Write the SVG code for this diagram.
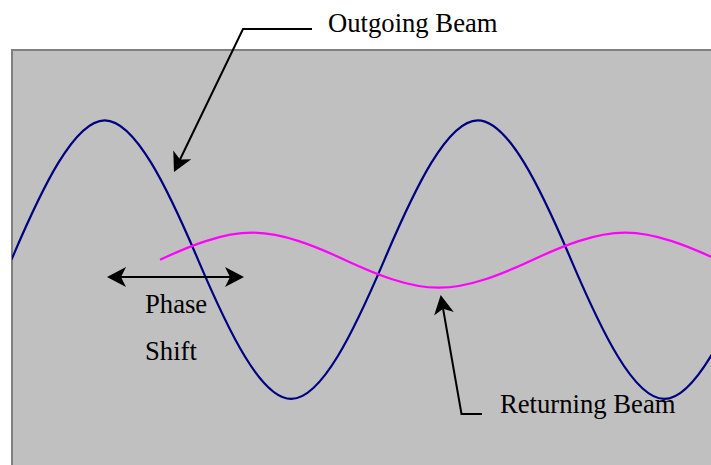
<svg xmlns="http://www.w3.org/2000/svg" width="711" height="465" viewBox="0 0 711 465">
  <style>
    .lbl { font-family: "Liberation Serif", "Times New Roman", serif; font-size: 26.67px; fill: #000; }
    .wave { fill: none; stroke-width: 2.2; stroke-linejoin: round; }
    .conn { fill: none; stroke: #000; stroke-width: 2; }
  </style>
  <defs>
    <marker id="arr" markerUnits="userSpaceOnUse" viewBox="-18 -11 22 22" markerWidth="22" markerHeight="22" refX="0" refY="0" orient="auto-start-reverse" overflow="visible">
      <path d="M3,0 L-16,-10 L-11,0 L-16,10 Z" fill="#000"/>
    </marker>
    <clipPath id="boxclip">
      <rect x="12" y="50" width="699" height="415"/>
    </clipPath>
  </defs>
  <rect width="711" height="465" fill="#fff"/>
  <g id="panel">
    <rect x="12" y="50" width="720" height="430" fill="#c0c0c0" stroke="#808080" stroke-width="2"/>
  </g>
  <g id="outgoing-wave" clip-path="url(#boxclip)">
    <path class="wave" stroke="#000080" d="M11.5,259.6 C41.91,188.24 74.34,120.3 104.75,120.3 C135.16,120.3 167.59,188.24 198,259.6 C228.41,330.96 260.84,398.9 291.25,398.9 C321.66,398.9 354.09,330.96 384.5,259.6 C414.91,188.24 447.34,120.3 477.75,120.3 C508.16,120.3 540.59,188.24 571,259.6 C601.41,330.96 633.84,398.9 664.25,398.9 C694.66,398.9 727.09,330.96 757.5,259.6"/>
  </g>
  <g id="returning-wave">
    <path class="wave" stroke="#ff00ff" d="M160,259.8 C189.41,246.11 221.84,232.7 252.25,232.7 C282.66,232.7 315.09,246.11 345.5,260.2 C375.91,274.29 408.34,287.7 438.75,287.7 C469.16,287.7 501.59,274.29 532,260.2 C562.41,246.11 594.84,232.7 625.25,232.7 C655.66,232.7 688.09,246.11 718.5,260.2"/>
  </g>
  <g id="connectors">
    <polyline class="conn" points="312,29 243,29 175.3,169.3" marker-end="url(#arr)"/>
    <polyline class="conn" points="482,414 461.5,414 441.2,298" marker-end="url(#arr)"/>
    <line class="conn" x1="110" y1="277" x2="241" y2="277" marker-start="url(#arr)" marker-end="url(#arr)"/>
  </g>
  <g id="label-outgoing">
    <text class="lbl" x="328" y="32">Outgoing Beam</text>
  </g>
  <g id="label-phase-shift">
    <text class="lbl" x="145" y="313">Phase</text>
    <text class="lbl" x="145" y="360">Shift</text>
  </g>
  <g id="label-returning">
    <text class="lbl" x="500" y="413">Returning Beam</text>
  </g>
</svg>
